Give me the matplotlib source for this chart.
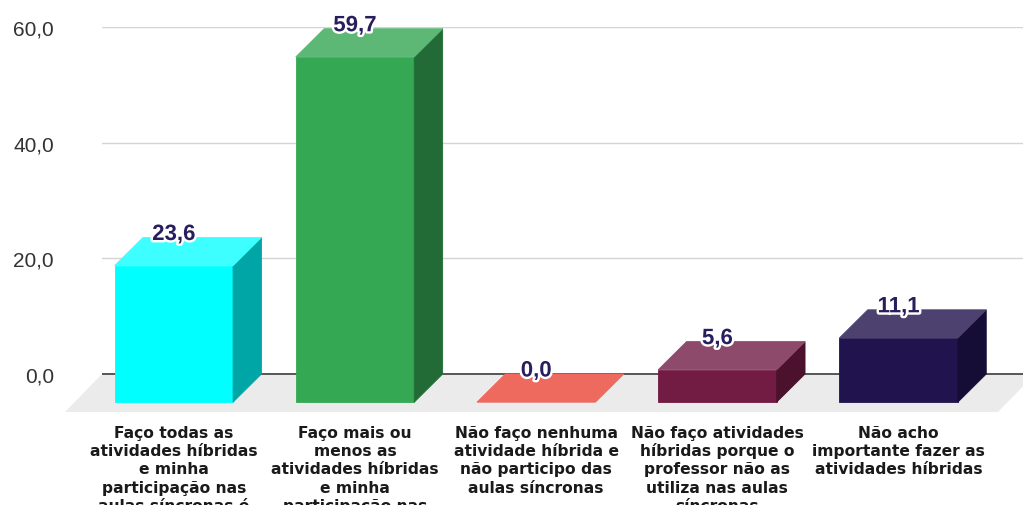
import matplotlib
matplotlib.use("Agg")
import matplotlib.pyplot as plt
from matplotlib.patches import Polygon
from matplotlib import transforms as mtransforms
import matplotlib.patheffects as pe

# ---------------- data ----------------
categories = [
    "Faço todas as\natividades híbridas\ne minha\nparticipação nas\naulas síncronas é",
    "Faço mais ou\nmenos as\natividades híbridas\ne minha\nparticipação nas",
    "Não faço nenhuma\natividade híbrida e\nnão participo das\naulas síncronas",
    "Não faço atividades\nhíbridas porque o\nprofessor não as\nutiliza nas aulas\nsíncronas",
    "Não acho\nimportante fazer as\natividades híbridas",
]
values = [23.6, 59.7, 0.0, 5.6, 11.1]
yticks = [0, 20, 40, 60]
ytick_labels = ["0,0", "20,0", "40,0", "60,0"]

# ---------------- style ----------------
front_colors = ["#00ffff", "#35a853", "#ec5f52", "#721b43", "#21144e"]
top_colors = ["#3dffff", "#5db876", "#ee6a5e", "#8e4a6a", "#4d426f"]
side_colors = ["#00a5a5", "#226b36", "#a8433a", "#4c122d", "#160d36"]
label_color = "#281e5d"

W, H, DPI = 1023, 506, 100
fig = plt.figure(figsize=(W / DPI, H / DPI), dpi=DPI)
fig.patch.set_facecolor("white")

ax_left, ax_right = 102, 1023
y0_px, y60_px = 375, 28
ax = fig.add_axes([ax_left / W, (H - y0_px) / H, (ax_right - ax_left) / W, (y0_px - y60_px) / H])

cat_px = 181.2
xmin = -(202.2 - ax_left) / cat_px
xmax = xmin + (ax_right - ax_left) / cat_px
ax.set_xlim(xmin, xmax)
ax.set_ylim(0, 60)
val_px = (y0_px - y60_px) / 60.0

for s in ax.spines.values():
    s.set_visible(False)
ax.set_xticks([])
ax.set_yticks(yticks)
ax.set_yticklabels(ytick_labels, fontfamily="Liberation Sans")
ax.tick_params(axis="y", length=0, pad=48 * 72 / DPI, labelsize=15, labelcolor="#333333")
ax.yaxis.grid(True, color="#d4d4d4", linewidth=1.0, zorder=0)
ax.set_axisbelow(True)

# 3D offsets (in data units)
bar_w = 118.5 / cat_px
ddx = 28.4 / cat_px
ddy = 28.2 / val_px
fdx = 37 / cat_px
fdy = 38 / val_px

# floor
floor_right = xmin + 933 / cat_px
floor = Polygon([(xmin, 0), (floor_right, 0), (floor_right - fdx, -fdy), (xmin - fdx, -fdy)],
                closed=True, facecolor="#ebebeb", edgecolor="none", clip_on=False, zorder=1)
ax.add_patch(floor)
ax.plot([xmin, xmax], [0, 0], color="#4a4a4a", linewidth=1.3, zorder=1.5, clip_on=False,
        solid_capstyle="butt")

label_tr = mtransforms.offset_copy(ax.transData, fig=fig, x=0, y=-2.5, units="dots")

for i, v in enumerate(values):
    xb0, xb1 = i - bar_w / 2, i + bar_w / 2
    kw = dict(closed=True, clip_on=False, zorder=3, linewidth=0.6)
    if v > 0:
        front = Polygon([(xb0 - ddx, -ddy), (xb1 - ddx, -ddy), (xb1 - ddx, v - ddy), (xb0 - ddx, v - ddy)],
                        facecolor=front_colors[i], edgecolor=front_colors[i], **kw)
        side = Polygon([(xb1 - ddx, -ddy), (xb1 - ddx, v - ddy), (xb1, v), (xb1, 0)],
                       facecolor=side_colors[i], edgecolor=side_colors[i], **kw)
        ax.add_patch(front)
        ax.add_patch(side)
    top = Polygon([(xb0 - ddx, v - ddy), (xb1 - ddx, v - ddy), (xb1, v), (xb0, v)],
                  facecolor=top_colors[i], edgecolor=top_colors[i], **kw)
    ax.add_patch(top)
    txt = ax.text(i - ddx, v, f"{v:.1f}".replace(".", ","), transform=label_tr,
                  ha="center", va="baseline", fontsize=16, fontweight="bold",
                  fontfamily="Liberation Sans", color=label_color, zorder=5, clip_on=False)
    txt.set_path_effects([pe.withStroke(linewidth=3.5, foreground="white")])

# category labels (wrapped, below the floor), centred under each bar's front face
blend = mtransforms.blended_transform_factory(ax.transData, fig.transFigure)
first_base = 437.8
line_h = 18.3
for i, lab in enumerate(categories):
    for k, line in enumerate(lab.split("\n")):
        ax.text(i - ddx, 1 - (first_base + line_h * k) / H, line, transform=blend,
                ha="center", va="baseline", fontsize=11.2, fontweight="bold",
                fontfamily="DejaVu Sans", color="#1a1a1a", clip_on=False)

fig.savefig("out.png", dpi=DPI)
